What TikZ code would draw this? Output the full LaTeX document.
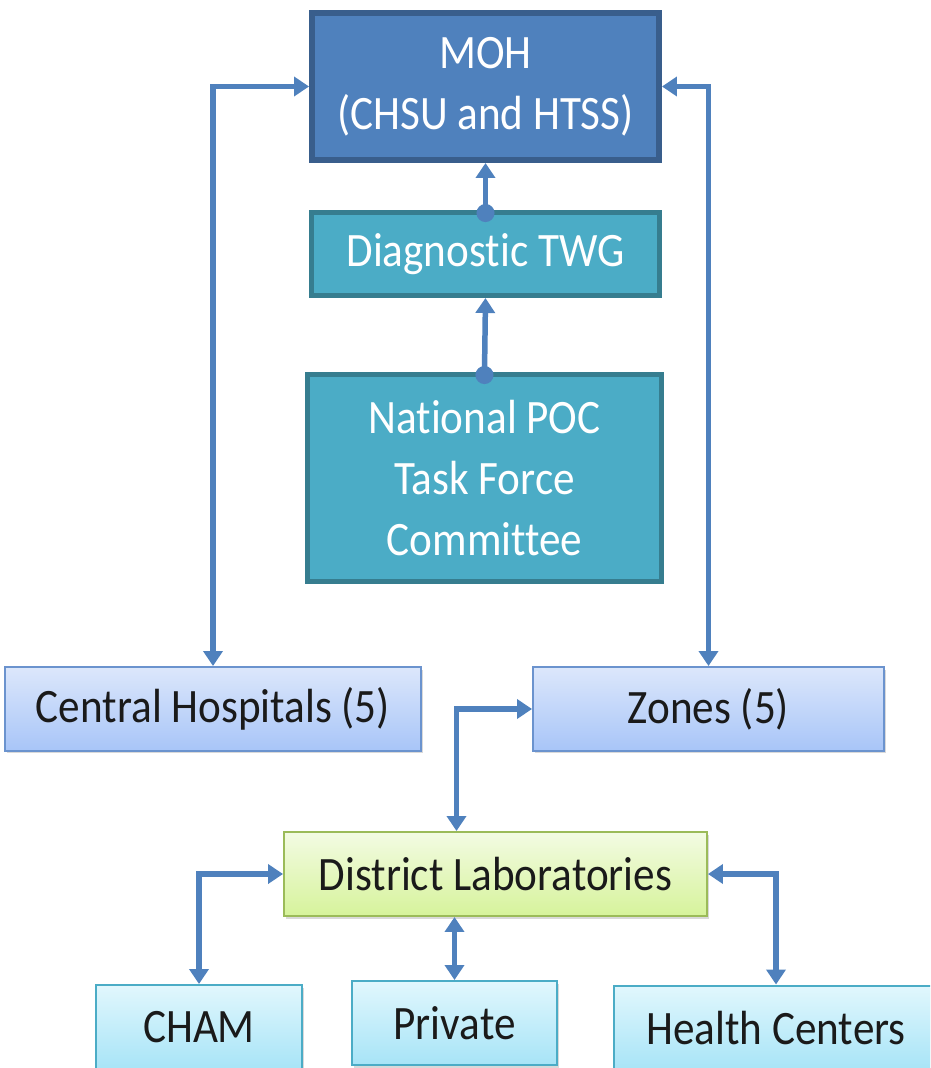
\documentclass[tikz,border=0pt]{standalone}
\usepackage{fontspec}
\setmainfont[FakeStretch=0.9, Ligatures=CommonOff]{Carlito}
\usetikzlibrary{arrows.meta,shadows,calc}

\definecolor{mohfill}{HTML}{4F81BD}
\definecolor{mohline}{HTML}{395E8C}
\definecolor{tealfill}{HTML}{4BACC6}
\definecolor{tealline}{HTML}{367D8F}
\definecolor{linkcol}{HTML}{4F81BD}
\definecolor{bluetop}{HTML}{DCE7FB}
\definecolor{bluebot}{HTML}{A8C5F8}
\definecolor{blueline}{HTML}{6B93CE}
\definecolor{greentop}{HTML}{F3FBE3}
\definecolor{greenbot}{HTML}{D6F39B}
\definecolor{greenline}{HTML}{9BBB59}
\definecolor{cyantop}{HTML}{E1F7FD}
\definecolor{cyanbot}{HTML}{A7E4F7}
\definecolor{cyanline}{HTML}{4BACC6}
\definecolor{textdark}{HTML}{1A1A1A}

\begin{document}
\begin{tikzpicture}[x=0.02cm, y=-0.02cm, >={Triangle[width=0.38cm, length=0.3cm]},
		every node/.style={inner sep=0pt, align=center, font=\fontsize{27.3}{34.7}\selectfont},
		mohbox/.style={draw=mohline, fill=mohfill, line width=0.12cm, text=white},
		tealbox/.style={draw=tealline, fill=tealfill, line width=0.1cm, text=white},
		lightbox/.style={line width=0.04cm, text=textdark, minimum height=1.68cm,
			drop shadow={shadow xshift=0.04cm, shadow yshift=-0.05cm, opacity=0.25, fill=black!60}},
		bluebox/.style={lightbox, draw=blueline, top color=bluetop, bottom color=bluebot},
		greenbox/.style={lightbox, draw=greenline, top color=greentop, bottom color=greenbot},
		cyanbox/.style={lightbox, draw=cyanline, top color=cyantop, bottom color=cyanbot},
		link/.style={draw=linkcol, line width=0.11cm}]
	\path[use as bounding box, clip] (0,0) rectangle (930,1068);
	
	% top part
	\node[mohbox, minimum width=6.94cm, minimum height=2.94cm] (moh) at (485.5,86.5) {MOH\\(CHSU and HTSS)};
	\node[tealbox, minimum width=6.96cm, minimum height=1.66cm] (twg) at (485.5,254) {Diagnostic TWG};
	\node[tealbox, minimum width=7.08cm, minimum height=4.14cm] (poc) at (484.5,478) {National POC\\Task Force\\Committee};
	
	% middle row
	\node[bluebox, minimum width=8.32cm] (ch) at (213,709) {Central Hospitals (5)};
	\node[bluebox, minimum width=7.02cm] (zones) at (708.5,709) {Zones (5)};
	
	% district and bottom row
	\node[greenbox, minimum width=8.46cm] (dist) at (495.5,874) {District Laboratories};
	\node[cyanbox, minimum width=4.12cm, minimum height=1.7cm] (cham) at (199,1027.5) {CHAM};
	\node[cyanbox, minimum width=4.1cm] (priv) at (454.5,1023) {Private};
	\node[cyanbox, minimum width=6.48cm, minimum height=1.7cm] (hc) at (776,1028) {Health Centers};
	
	% links to MOH
	\draw[link, {Circle[length=0.36cm]}->, shorten <=-0.24cm] (twg.north) -- (moh.south);
	\draw[link, {Circle[length=0.36cm]}->, shorten <=-0.24cm] (poc.north) -- (twg.south);
	\draw[link, <->] (ch.north) |- (moh.west);
	\draw[link, <->] (zones.north) |- (moh.east);
	
	% links of the district laboratories
	\draw[link, <->] ($(dist.north)+(-39,0)$) |- (zones.west);
	\draw[link, <->] (dist.west) -| (cham.north);
	\draw[link, <->] (dist.east) -| (hc.north);
	\draw[link, <->] (dist.south -| priv.north) -- (priv.north);
\end{tikzpicture}
\end{document}
